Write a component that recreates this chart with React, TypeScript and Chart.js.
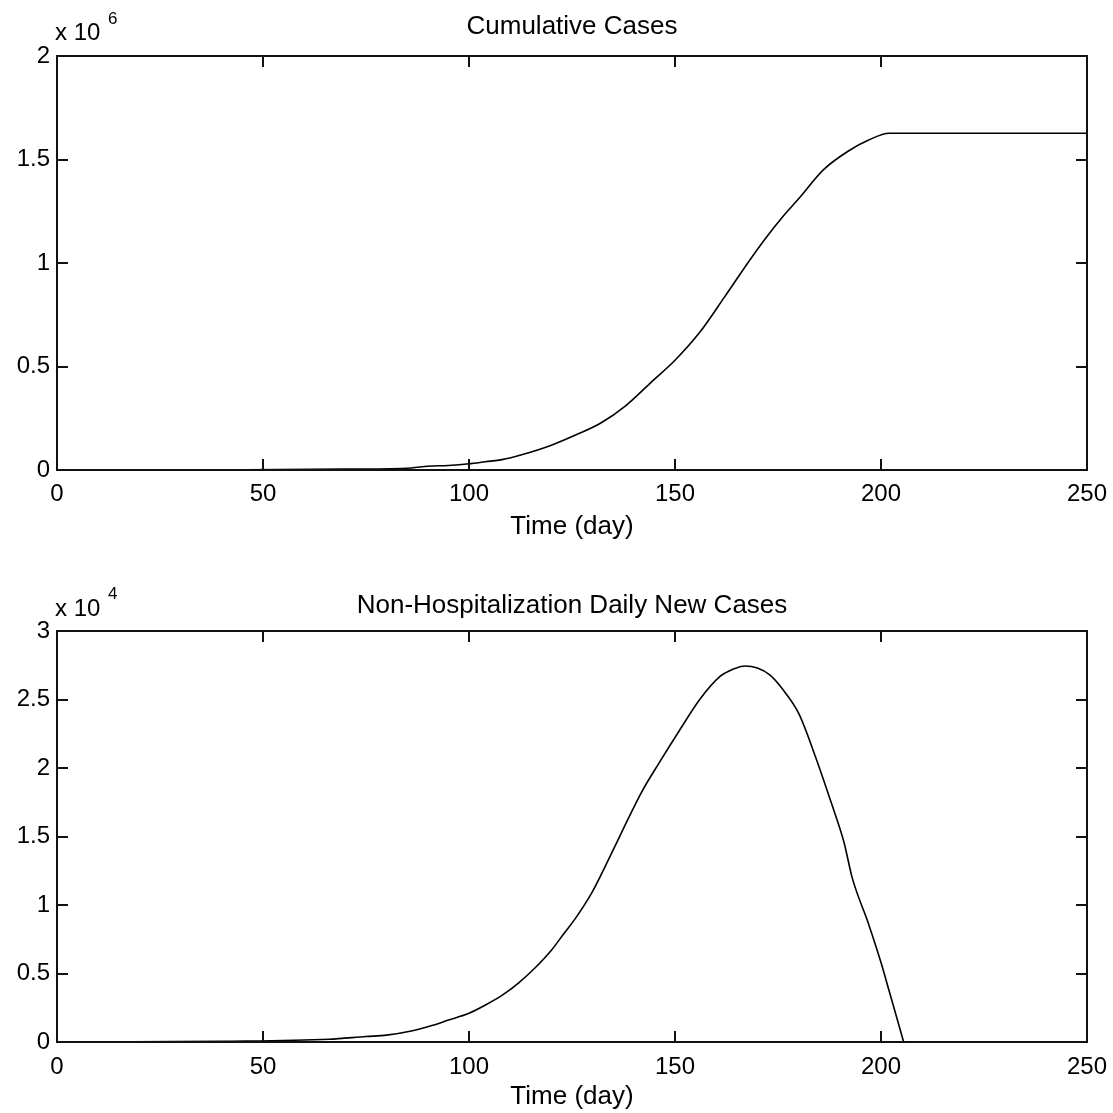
import React, { useEffect, useRef } from "react";
import { Chart, registerables } from "chart.js";
Chart.register(...registerables);

// ---- Data ----
const cumDays = [7, 40, 70, 86, 90, 95, 100, 104, 108, 113, 120, 126, 132, 138, 144, 150, 156, 162, 168, 172, 176, 180, 186, 192, 197, 202, 250];
const cumCases = [0, 1000, 4000, 10000, 18000, 22000, 30000, 40000, 50000, 75000, 120000, 170000, 227000, 310000, 420000, 530000, 665000, 835000, 1010000, 1120000, 1220000, 1310000, 1450000, 1540000, 1594000, 1627000, 1627000];

const dailyDays = [7, 40, 66, 75, 80, 86, 91, 95, 100, 104, 108, 112, 116, 120, 123, 126, 130, 134, 138, 142, 146, 151, 156, 161, 164, 167, 170, 173, 176, 180, 184, 188, 191, 193, 197, 200, 202, 205.5];
const dailyNew = [0, 50, 200, 400, 500, 800, 1200, 1600, 2100, 2700, 3400, 4300, 5400, 6700, 7900, 9100, 11000, 13400, 15900, 18300, 20300, 22700, 25000, 26700, 27200, 27450, 27300, 26800, 25800, 24000, 20900, 17400, 14600, 12000, 8600, 5800, 3700, 0];

const xTickValues = [0, 50, 100, 150, 200, 250];
const topTitle = "Cumulative Cases";
const bottomTitle = "Non-Hospitalization Daily New Cases";
const xTitle = "Time (day)";

const FONT = "'Liberation Sans', Arial, Helvetica, sans-serif";
const FS = 24;
const FS_TITLE = 26;

type Cfg = {
  xs: number[];
  ys: number[];
  yMax: number;
  yStep: number;
  scaleFactor: number;
  expo: string;
  title: string;
  height: number;
  padTop: number;
  xAxisHeight: number;
  xTickPad: number;
  xTitlePadBottom: number;
  titleY: number;
  expoY: number;
  supY: number;
};

const boxPlugin = {
  id: "matlabBox",
  afterDraw(chart: any, _args: any, opts: any) {
    const { ctx, chartArea: a, scales } = chart;
    ctx.save();
    ctx.strokeStyle = "#111";
    ctx.lineWidth = 2;
    ctx.strokeRect(a.left, a.top, a.right - a.left, a.bottom - a.top);
    const L = 11;
    ctx.beginPath();
    scales.x.ticks.forEach((t: any) => {
      const px = Math.round(scales.x.getPixelForValue(t.value));
      ctx.moveTo(px, a.bottom);
      ctx.lineTo(px, a.bottom - L);
      ctx.moveTo(px, a.top);
      ctx.lineTo(px, a.top + L);
    });
    scales.y.ticks.forEach((t: any) => {
      const py = Math.round(scales.y.getPixelForValue(t.value));
      ctx.moveTo(a.left, py);
      ctx.lineTo(a.left + L, py);
      ctx.moveTo(a.right, py);
      ctx.lineTo(a.right - L, py);
    });
    ctx.lineWidth = 2;
    ctx.stroke();

    // title
    ctx.fillStyle = "#000";
    ctx.font = `${FS_TITLE}px ${FONT}`;
    ctx.textAlign = "center";
    ctx.textBaseline = "middle";
    ctx.fillText(opts.title, (a.left + a.right) / 2, opts.titleY);

    // exponent label
    ctx.font = `${FS}px ${FONT}`;
    ctx.textAlign = "left";
    ctx.fillText("x 10", 55, opts.expoY);
    ctx.font = `17px ${FONT}`;
    ctx.fillText(opts.expo, 108, opts.supY);
    ctx.restore();
  },
};

function Panel({ cfg }: { cfg: Cfg }) {
  const ref = useRef<HTMLCanvasElement>(null);
  useEffect(() => {
    if (!ref.current) return;
    const data = cfg.xs.map((x, i) => ({ x, y: cfg.ys[i] }));
    const chart = new Chart(ref.current, {
      type: "line",
      data: {
        datasets: [
          {
            data,
            borderColor: "#000",
            borderWidth: 1.6,
            pointRadius: 0,
            fill: false,
            cubicInterpolationMode: "monotone",
            clip: false as any,
          },
        ],
      },
      plugins: [boxPlugin as any],
      options: {
        responsive: false,
        animation: false,
        devicePixelRatio: 1,
        layout: { padding: { top: cfg.padTop, right: 26, left: 0, bottom: 0 } },
        plugins: {
          legend: { display: false },
          tooltip: { enabled: false },
          title: { display: false },
          matlabBox: {
            title: cfg.title,
            expo: cfg.expo,
            titleY: cfg.titleY,
            expoY: cfg.expoY,
            supY: cfg.supY,
          },
        } as any,
        scales: {
          x: {
            type: "linear",
            min: 0,
            max: 250,
            afterBuildTicks: (s: any) => {
              s.ticks = xTickValues.map((v) => ({ value: v }));
            },
            afterFit: (s: any) => {
              s.height = cfg.xAxisHeight;
              s.paddingLeft = 0;
              s.paddingRight = 0;
            },
            grid: { display: false, drawTicks: false },
            border: { display: false },
            ticks: {
              color: "#000",
              padding: cfg.xTickPad,
              maxRotation: 0,
              font: { family: FONT, size: FS },
            },
            title: {
              display: true,
              text: xTitle,
              color: "#000",
              font: { family: FONT, size: FS_TITLE, lineHeight: 1.2 },
              padding: { top: 0, bottom: cfg.xTitlePadBottom },
            },
          },
          y: {
            type: "linear",
            min: 0,
            max: cfg.yMax,
            ticks: {
              stepSize: cfg.yStep,
              color: "#000",
              padding: 7,
              font: { family: FONT, size: FS },
              callback: (v: any) => String(Math.round((Number(v) / cfg.scaleFactor) * 100) / 100),
            },
            afterFit: (s: any) => {
              s.width = 57;
              s.paddingTop = 0;
              s.paddingBottom = 0;
            },
            grid: { display: false, drawTicks: false },
            border: { display: false },
          },
        },
      },
    });
    return () => chart.destroy();
  }, [cfg]);
  return <canvas ref={ref} width={1113} height={cfg.height} style={{ display: "block", width: 1113, height: cfg.height }} />;
}

const topCfg: Cfg = {
  xs: cumDays,
  ys: cumCases,
  yMax: 2e6,
  yStep: 0.5e6,
  scaleFactor: 1e6,
  expo: "6",
  title: topTitle,
  height: 556,
  padTop: 56,
  xAxisHeight: 86,
  xTickPad: 10,
  xTitlePadBottom: 14,
  titleY: 27,
  expoY: 33,
  supY: 19,
};

const bottomCfg: Cfg = {
  xs: dailyDays,
  ys: dailyNew,
  yMax: 3e4,
  yStep: 0.5e4,
  scaleFactor: 1e4,
  expo: "4",
  title: bottomTitle,
  height: 557,
  padTop: 75,
  xAxisHeight: 71,
  xTickPad: 11,
  xTitlePadBottom: 1,
  titleY: 50,
  expoY: 53,
  supY: 38,
};

export default function App() {
  return (
    <div style={{ position: "absolute", left: 0, top: 0, width: 1113, height: 1113, background: "#fff" }}>
      <Panel cfg={topCfg} />
      <Panel cfg={bottomCfg} />
    </div>
  );
}
